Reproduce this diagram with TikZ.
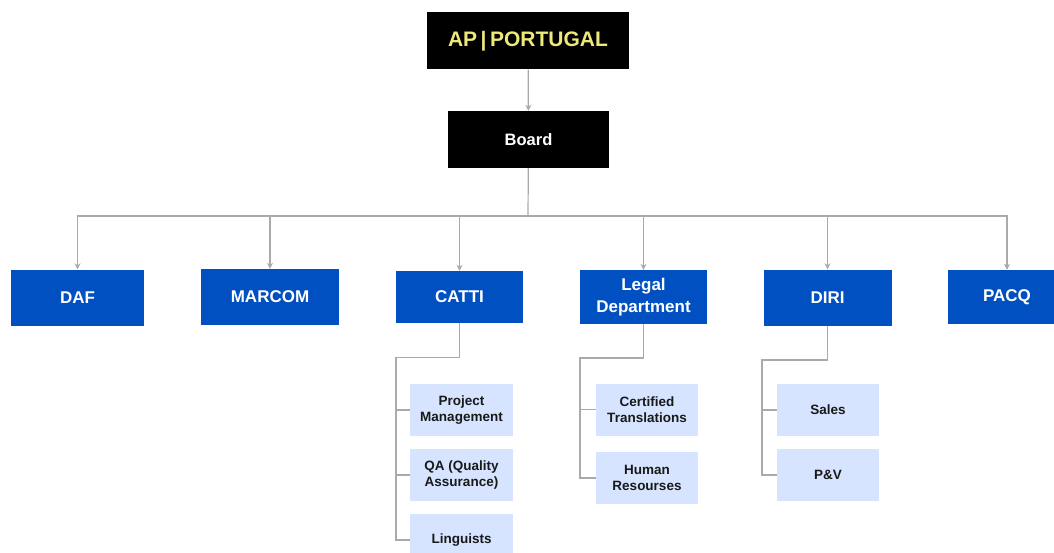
\documentclass[tikz,border=0pt]{standalone}
\usepackage{fontspec}
\setmainfont{Liberation Sans}
\usetikzlibrary{arrows.meta}

\definecolor{deptblue}{HTML}{0050C2}
\definecolor{subblue}{HTML}{D6E4FF}
\definecolor{linegray}{HTML}{AAAAAA}
\definecolor{topyellow}{HTML}{EFE97A}

\tikzset{
  topbox/.style={fill=black, inner sep=0pt, minimum height=57pt},
  deptbox/.style={fill=deptblue, text=white, inner sep=0pt, minimum height=56pt,
    align=center, font=\bfseries\fontsize{17}{22}\selectfont},
  subbox/.style={fill=subblue, text=black!90, inner sep=0pt, minimum width=103pt,
    minimum height=52pt, align=center, font=\bfseries\fontsize{13.5}{16}\selectfont},
  conn/.style={draw=linegray, line width=1.2pt},
  arr/.style={conn, -{Stealth[length=6pt,width=6pt]}}
}

\begin{document}
\begin{tikzpicture}[x=1pt,y=-1pt]

\useasboundingbox (0,0) rectangle (1054,553);
\begin{scope}
\clip (0,0) rectangle (1054,553);

% Topo
\node[topbox, minimum width=202pt, text=topyellow, font=\bfseries\fontsize{21}{25}\selectfont]
  (ap) at (528,41) {AP\,|\,PORTUGAL};
\node[topbox, minimum width=161pt, text=white, font=\bfseries\fontsize{16.5}{20}\selectfont]
  (board) at (528.5,139.5) {Board};

\draw[arr] (ap) -- (board);

% Departamentos
\node[deptbox, minimum width=133pt] (daf)    at (77.5,297.5) {DAF};
\node[deptbox, minimum width=138pt] (marcom) at (270,297)    {MARCOM};
\node[deptbox, minimum width=127pt, minimum height=52pt] (catti) at (459.5,297) {CATTI};
\node[deptbox, minimum width=127pt, minimum height=54pt] (legal) at (643.5,297) {Legal\\Department};
\node[deptbox, minimum width=128pt] (diri)   at (827.5,297.5) {DIRI};
\node[deptbox, minimum width=118pt, minimum height=54pt] (pacq) at (1007,297) {PACQ};

\coordinate (bus) at (528,216);
\draw[conn] (board) -- (bus);
\foreach \d in {daf, marcom, catti, legal, diri, pacq}
  \draw[arr] (bus) -| (\d.north);

% CATTI
\node[subbox] (pm)   at (461.5,410) {Project\\Management};
\node[subbox] (qa)   at (461.5,475) {QA (Quality\\Assurance)};
\node[subbox] (ling) at (461.5,540) {Linguists};

\coordinate (cattibend) at (396,357.5);
\draw[conn] (catti.south) |- (cattibend) |- (ling.west);
\foreach \s in {pm, qa}
  \draw[conn] (cattibend |- \s.west) -- (\s.west);

% Legal Department
\node[subbox, minimum width=102pt] (cert)  at (647,409.5) {Certified\\Translations};
\node[subbox, minimum width=102pt] (human) at (647,478)   {Human\\Resourses};

\coordinate (legalbend) at (580,358);
\draw[conn] (legal.south) |- (legalbend) |- (human.west);
\draw[conn] (legalbend |- cert.west) -- (cert.west);

% DIRI
\node[subbox, minimum width=102pt] (sales) at (828,410) {Sales};
\node[subbox, minimum width=102pt] (pv)    at (828,475) {P\&V};

\coordinate (diribend) at (762,360);
\draw[conn] (diri.south) |- (diribend) |- (pv.west);
\draw[conn] (diribend |- sales.west) -- (sales.west);

\end{scope}
\end{tikzpicture}
\end{document}
